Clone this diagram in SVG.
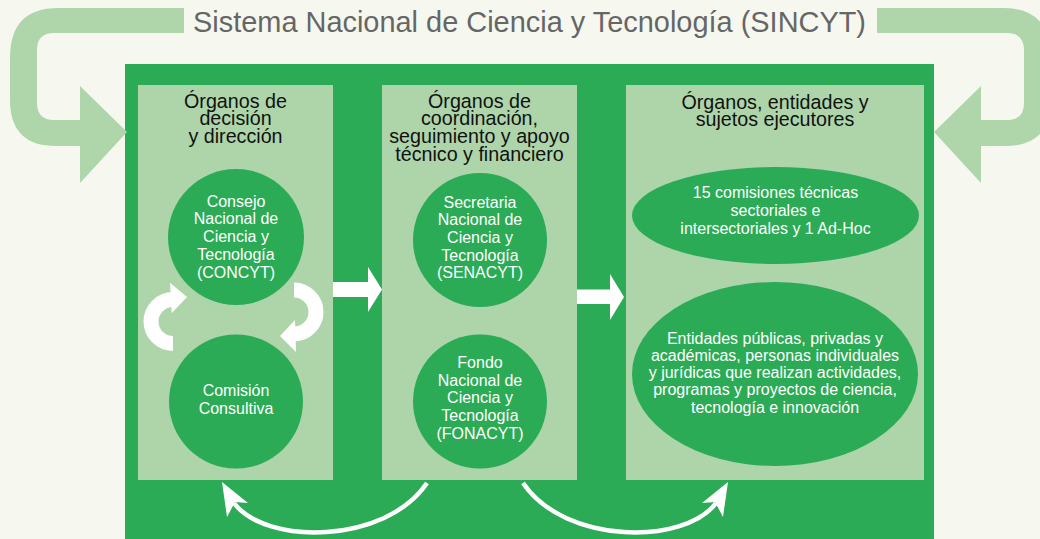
<svg xmlns="http://www.w3.org/2000/svg" width="1040" height="539" viewBox="0 0 1040 539">
<style>
.bg{fill:#f6f8ef}
.frame{fill:#2bab55}
.panel{fill:#add5a9}
.node{fill:#2bab55}
.big{fill:#afd5aa}
.title{font-family:"Liberation Sans",Arial,sans-serif;font-size:29px;fill:#666666;text-anchor:middle}
.hdr{font-family:"Liberation Sans",Arial,sans-serif;font-size:19.7px;fill:#111111;text-anchor:middle}
.lbl{font-family:"Liberation Sans",Arial,sans-serif;font-size:16px;fill:#ffffff;text-anchor:middle}
.wline{fill:none;stroke:#ffffff}
.wfill{fill:#ffffff}
</style>
<rect class="bg" x="0" y="0" width="1040" height="539"/>
<text class="title" x="529.5" y="32" textLength="673" lengthAdjust="spacingAndGlyphs">Sistema Nacional de Ciencia y Tecnología (SINCYT)</text>
<g id="sincyt-frame">
<rect class="frame" x="125" y="64" width="809" height="475"/>
</g>
<g id="panel-decision">
<rect class="panel" x="138" y="85" width="195" height="395"/>
<text class="hdr" x="235.5" y="107.5">Órganos de</text>
<text class="hdr" x="235.5" y="125.2">decisión</text>
<text class="hdr" x="235.5" y="142.9">y dirección</text>
</g>
<g id="panel-coordinacion">
<rect class="panel" x="382" y="85" width="195" height="395"/>
<text class="hdr" x="479.5" y="107.5">Órganos de</text>
<text class="hdr" x="479.5" y="125.3">coordinación,</text>
<text class="hdr" x="479.5" y="143.1">seguimiento y apoyo</text>
<text class="hdr" x="479.5" y="160.9">técnico y financiero</text>
</g>
<g id="panel-ejecutores">
<rect class="panel" x="626" y="85" width="298" height="395"/>
<text class="hdr" x="775" y="108.8">Órganos, entidades y</text>
<text class="hdr" x="775" y="125.8">sujetos ejecutores</text>
</g>
<g id="node-concyt">
<circle class="node" cx="236" cy="237" r="68"/>
<text class="lbl" x="236" y="206.7">Consejo</text>
<text class="lbl" x="236" y="224.4">Nacional de</text>
<text class="lbl" x="236" y="242.1">Ciencia y</text>
<text class="lbl" x="236" y="259.8">Tecnología</text>
<text class="lbl" x="236" y="277.5">(CONCYT)</text>
</g>
<g id="node-comision">
<circle class="node" cx="236" cy="401.5" r="67"/>
<text class="lbl" x="236" y="396">Comisión</text>
<text class="lbl" x="236" y="413.7">Consultiva</text>
</g>
<g id="node-senacyt">
<circle class="node" cx="480" cy="240" r="67"/>
<text class="lbl" x="480" y="207.5">Secretaria</text>
<text class="lbl" x="480" y="225.2">Nacional de</text>
<text class="lbl" x="480" y="242.9">Ciencia y</text>
<text class="lbl" x="480" y="260.6">Tecnología</text>
<text class="lbl" x="480" y="278.3">(SENACYT)</text>
</g>
<g id="node-fonacyt">
<circle class="node" cx="480" cy="401.5" r="67"/>
<text class="lbl" x="480" y="368">Fondo</text>
<text class="lbl" x="480" y="385.7">Nacional de</text>
<text class="lbl" x="480" y="403.4">Ciencia y</text>
<text class="lbl" x="480" y="421.1">Tecnología</text>
<text class="lbl" x="480" y="438.8">(FONACYT)</text>
</g>
<g id="node-comisiones">
<ellipse class="node" cx="775.5" cy="215.5" rx="143.5" ry="48.5"/>
<text class="lbl" x="775.5" y="198.3">15 comisiones técnicas</text>
<text class="lbl" x="775.5" y="216">sectoriales e</text>
<text class="lbl" x="775.5" y="233.7">intersectoriales y 1 Ad-Hoc</text>
</g>
<g id="node-entidades">
<ellipse class="node" cx="775" cy="374" rx="143" ry="92"/>
<text class="lbl" x="775" y="343.5">Entidades públicas, privadas y</text>
<text class="lbl" x="775" y="360.8">académicas, personas individuales</text>
<text class="lbl" x="775" y="378.1">y jurídicas que realizan actividades,</text>
<text class="lbl" x="775" y="395.4">programas y proyectos de ciencia,</text>
<text class="lbl" x="775" y="412.7">tecnología e innovación</text>
</g>
<g id="connectors">
<path class="big" d="M184,8 H58 Q10,8 10,58 V100 Q10,146 56,146 H80 V183 L127,132 L80,86 V120 H54 Q37,120 37,103 V50 Q37,33 54,33 H184 Z"/>
<path class="big" d="M877,8 H1003 Q1051,8 1051,58 V100 Q1051,146 1005,146 H981 V183 L934,132 L981,86 V120 H1007 Q1024,120 1024,103 V50 Q1024,33 1007,33 H877 Z"/>
<path class="wline" stroke-width="15" d="M173,343.5 A22,22 0 0 1 173,299.5"/>
<polygon class="wfill" points="170,282.7 187,297 171.7,313.3"/>
<path class="wline" stroke-width="15" d="M294,290 A22,22 0 0 1 294,334"/>
<polygon class="wfill" points="295,320 280,336 296,352"/>
<polygon class="wfill" points="333,282 368,282 368,267 382,289.5 368,312 368,297 333,297"/>
<polygon class="wfill" points="577,289.5 610,289.5 610,274 624,297 610,320 610,304 577,304"/>
<path class="wline" stroke-width="4.5" d="M427,483 C385,545 265,545 234,503"/>
<polygon class="wfill" points="222,482 248,503 235,502 227,517"/>
<path class="wline" stroke-width="4.5" d="M523,483 C565,545 685,545 716,503"/>
<polygon class="wfill" points="728,482 702,503 715,502 723,517"/>
</g>
</svg>
